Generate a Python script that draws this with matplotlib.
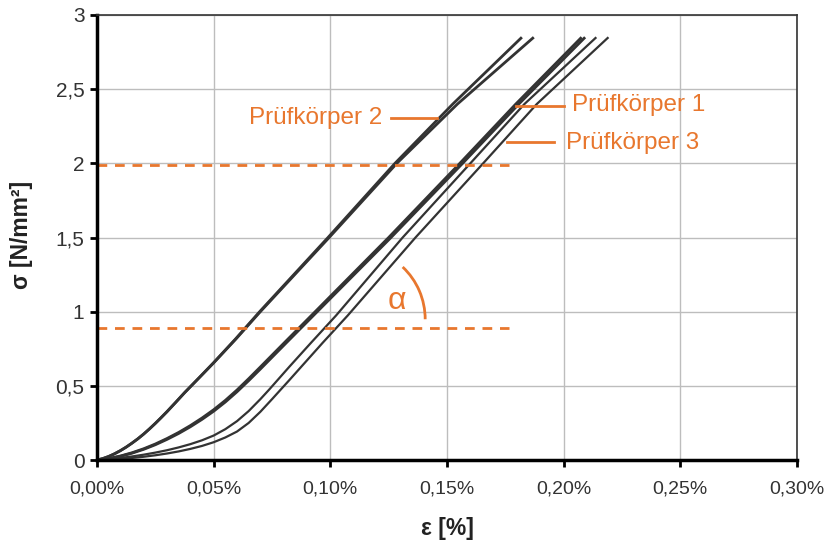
import numpy as np
import matplotlib
matplotlib.use("Agg")
import matplotlib.pyplot as plt
from matplotlib.patches import Arc
from matplotlib.ticker import FuncFormatter

plt.rcParams['font.family'] = ['Liberation Sans', 'DejaVu Sans']

# strain in %, stress in N/mm²
# Prüfkörper 2 (two runs, nearly identical)
p2a_eps = [0, 0.0025, 0.005, 0.0075, 0.010, 0.0125, 0.015, 0.0175, 0.020, 0.0225, 0.025,
           0.0275, 0.030, 0.0338, 0.0376, 0.0438, 0.050, 0.0595, 0.070, 0.0995, 0.1285, 0.1545, 0.1872]
p2a_sig = [0, 0.010, 0.024, 0.042, 0.063, 0.087, 0.114, 0.143, 0.175, 0.210, 0.247,
           0.286, 0.326, 0.390, 0.455, 0.555, 0.655, 0.815, 1.0, 1.5, 2.0, 2.4, 2.85]
p2b_eps = [0, 0.0025, 0.005, 0.0075, 0.010, 0.0125, 0.015, 0.0175, 0.020, 0.0225, 0.025,
           0.0275, 0.030, 0.0338, 0.0376, 0.0438, 0.0499, 0.0593, 0.0697, 0.0990, 0.1277, 0.1525, 0.1821]
p2b_sig = [0, 0.010, 0.024, 0.042, 0.063, 0.087, 0.114, 0.143, 0.175, 0.210, 0.247,
           0.286, 0.326, 0.390, 0.455, 0.555, 0.655, 0.815, 1.0, 1.5, 2.0, 2.4, 2.85]

# Prüfkörper 1
p1a_eps = [0, 0.005, 0.010, 0.015, 0.020, 0.025, 0.030, 0.035, 0.040, 0.045, 0.050,
           0.055, 0.060, 0.065, 0.070, 0.081, 0.093, 0.125, 0.1555, 0.1795, 0.2077]
p1a_sig = [0, 0.010, 0.027, 0.049, 0.076, 0.108, 0.145, 0.186, 0.232, 0.283, 0.339,
           0.402, 0.472, 0.548, 0.627, 0.802, 0.992, 1.5, 2.0, 2.4, 2.85]
p1b_eps = [0, 0.005, 0.010, 0.015, 0.020, 0.025, 0.030, 0.035, 0.040, 0.045, 0.050,
           0.055, 0.060, 0.065, 0.070, 0.081, 0.093, 0.126, 0.1567, 0.1808, 0.2092]
p1b_sig = [0, 0.009, 0.025, 0.046, 0.072, 0.103, 0.139, 0.179, 0.224, 0.274, 0.329,
           0.391, 0.460, 0.535, 0.613, 0.788, 0.978, 1.5, 2.0, 2.4, 2.85]

# Prüfkörper 3
p3a_eps = [0, 0.005, 0.010, 0.015, 0.020, 0.025, 0.030, 0.035, 0.040, 0.045, 0.050,
           0.055, 0.060, 0.065, 0.070, 0.0738, 0.0825, 0.0917, 0.1025, 0.131, 0.160, 0.1832, 0.2140]
p3a_sig = [0, 0.006, 0.014, 0.024, 0.036, 0.050, 0.066, 0.085, 0.107, 0.133, 0.165,
           0.208, 0.262, 0.330, 0.410, 0.475, 0.630, 0.790, 0.975, 1.5, 2.0, 2.4, 2.85]
p3b_eps = [0, 0.005, 0.010, 0.015, 0.020, 0.025, 0.030, 0.035, 0.040, 0.045, 0.050,
           0.055, 0.060, 0.065, 0.070, 0.075, 0.0825, 0.0967, 0.1075, 0.1365, 0.1655, 0.1885, 0.2192]
p3b_sig = [0, 0.003, 0.008, 0.014, 0.022, 0.032, 0.044, 0.058, 0.075, 0.095, 0.120,
           0.152, 0.192, 0.250, 0.325, 0.410, 0.540, 0.790, 0.975, 1.5, 2.0, 2.4, 2.85]

# reference stress levels (dashed)
ref_levels = [1.99, 0.89]
ref_eps_end = 0.1765

x_ticks = [0, 0.05, 0.10, 0.15, 0.20, 0.25, 0.30]
y_ticks = [0, 0.5, 1, 1.5, 2, 2.5, 3]

orange = '#E8772E'
dark = '#333333'

fig = plt.figure(figsize=(8.29, 5.47), dpi=100)
ax = fig.add_axes([0.117, 0.159, 0.8444, 0.8136])

ax.grid(True, color='#BDBDBD', lw=1)
ax.set_axisbelow(True)

for e, s, w in [(p2a_eps, p2a_sig, 2.0), (p2b_eps, p2b_sig, 2.0),
                (p1a_eps, p1a_sig, 2.0), (p1b_eps, p1b_sig, 2.0),
                (p3a_eps, p3a_sig, 1.6), (p3b_eps, p3b_sig, 1.6)]:
    ax.plot(e, s, color=dark, lw=w, solid_capstyle='butt')

for lvl in ref_levels:
    ax.plot([0, ref_eps_end], [lvl, lvl], color=orange, lw=2,
            linestyle=(0, (3.5, 2.8)))

# labels with leader lines
ax.plot([0.1261, 0.1457], [2.305, 2.305], color=orange, lw=2)
ax.text(0.1222, 2.305, 'Prüfkörper 2', color=orange, fontsize=17.5,
        ha='right', va='center')
ax.plot([0.1795, 0.2000], [2.386, 2.386], color=orange, lw=2)
ax.text(0.2035, 2.393, 'Prüfkörper 1', color=orange, fontsize=17.5,
        ha='left', va='center')
ax.plot([0.1756, 0.1957], [2.142, 2.142], color=orange, lw=2)
ax.text(0.2012, 2.136, 'Prüfkörper 3', color=orange, fontsize=17.5,
        ha='left', va='center')

# angle mark (circular on screen, so width/height differ in data units)
arc_w, arc_h = 0.0607, 0.963
arc_t2 = np.degrees(np.arctan(np.tan(np.radians(47)) * arc_h / arc_w))
ax.add_patch(Arc((0.1103, 0.949), arc_w, arc_h, theta1=0, theta2=arc_t2,
                 color=orange, lw=2))
ax.text(0.1286, 1.071, 'α', color=orange, fontsize=23, ha='center', va='center')

ax.set_xlim(0, 0.30)
ax.set_ylim(0, 3)
ax.set_xticks(x_ticks)
ax.set_yticks(y_ticks)
ax.xaxis.set_major_formatter(FuncFormatter(lambda v, p: f'{v:.2f}%'.replace('.', ',')))
ax.yaxis.set_major_formatter(FuncFormatter(lambda v, p: f'{v:g}'.replace('.', ',')))
ax.tick_params(axis='both', direction='out', length=5, width=2, colors='black',
               labelcolor='#333333')
ax.tick_params(axis='x', pad=10, labelsize=14)
ax.tick_params(axis='y', pad=4, labelsize=15)

for side in ['left', 'bottom']:
    ax.spines[side].set_linewidth(2.5)
    ax.spines[side].set_color('black')
for side in ['top', 'right']:
    ax.spines[side].set_linewidth(1.2)
    ax.spines[side].set_color('#333333')

fig.text(447 / 829, 1 - 529 / 547, 'ε [%]', fontsize=16.5, fontweight='bold',
         ha='center', va='center', color='#222222')
fig.text(22 / 829, 1 - 235 / 547, 'σ [N/mm²]', fontsize=16.5, fontweight='bold',
         ha='center', va='center', rotation=90, color='#222222')

fig.savefig('out.png', dpi=100)
